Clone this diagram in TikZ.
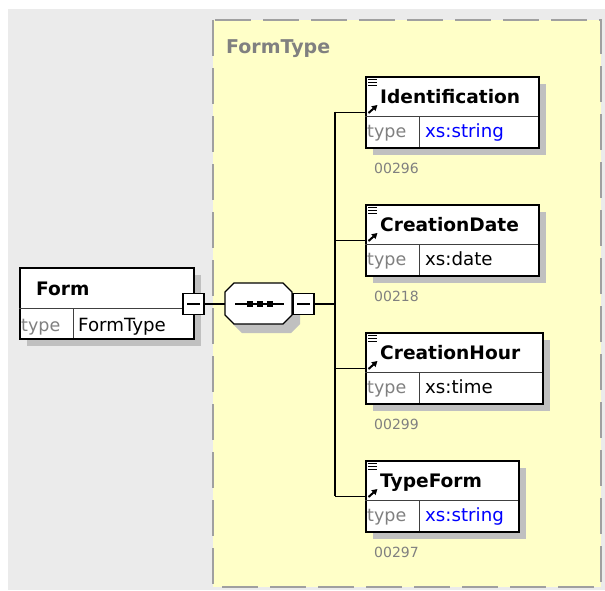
\documentclass[tikz,border=0pt]{standalone}
\usepackage{fontspec}
\setmainfont{DejaVu Sans}
\usetikzlibrary{arrows.meta}
\definecolor{bggray}{HTML}{EBEBEB}
\definecolor{ylw}{HTML}{FFFFC8}
\definecolor{shad}{HTML}{C0C0C0}
\definecolor{dashgray}{HTML}{A0A0A0}
\definecolor{lblgray}{HTML}{808080}
\definecolor{xsblue}{HTML}{0000FF}
\tikzset{
  elbox/.style={draw=black, line width=1.6pt, fill=white, inner sep=0pt, rectangle},
  divline/.style={draw=black!75, line width=0.9pt},
  nametext/.style={anchor=base west, inner sep=0pt, font=\fontsize{18.6}{20}\selectfont\bfseries},
  typelbl/.style={anchor=base west, inner sep=0pt, text=lblgray, font=\fontsize{17.5}{20}\selectfont},
  valtext/.style={anchor=base west, inner sep=0pt, font=\fontsize{18.2}{20}\selectfont},
  numtext/.style={anchor=base west, inner sep=0pt, text=lblgray, font=\fontsize{14}{16}\selectfont},
  conn/.style={draw=black, line width=1.3pt},
  minusbox/.style={draw=black, line width=1.3pt, fill=white, rectangle, inner sep=0pt, minimum width=21pt, minimum height=21pt},
  dashframe/.style={draw=dashgray, line width=2pt, dash pattern=on 36pt off 12pt, fill=ylw},
}
\newcommand\xelem[6]{%
  \fill[shad] (#2+8,#3+8) rectangle ++(#4,71);
  \node[elbox, minimum width=#4pt, minimum height=71pt, anchor=north west] (#1) at (#2,#3) {};
  \draw[divline] (#2,#3+40) -- ++(#4,0);
  \draw[divline] (#2+54,#3+40) -- ++(0,31);
  \draw[line width=1.2pt] (#2+3,#3+3.5) -- ++(9,0) (#2+3,#3+6.5) -- ++(9,0) (#2+3,#3+9.5) -- ++(9,0);
  \draw[line width=2pt, -{Triangle[length=5.5pt,width=6pt]}] (#2+3.5,#3+37) -- ++(9,-8);
  \node[nametext] (#1-name) at (#2+15,#3+27) {#5};
  \node[typelbl] (#1-type) at (#2+2,#3+61) {type};
  \node[valtext] (#1-val) at (#2+60,#3+61) {#6};
}
\begin{document}
\begin{tikzpicture}[x=1pt,y=-1pt]
\useasboundingbox (0,0) rectangle (605,590);
\fill[bggray] (8,9) rectangle (605,590);
\draw[dashframe] (213,20) rectangle (601,587);
\node[anchor=base west, inner sep=0pt, text=lblgray, font=\fontsize{19}{21}\selectfont\bfseries] (title) at (226,53) {FormType};

% Form element
\fill[shad] (19+8,267+8) rectangle (193+8,338+8);
\node[elbox, minimum width=174pt, minimum height=71pt, anchor=north west] (form) at (19,267) {};
\draw[divline] (19,308) -- (193,308);
\draw[divline] (73,308) -- (73,338);
\node[nametext] (form-name) at (36,295) {Form};
\node[typelbl] (form-type) at (21,331) {type};
\node[valtext] (form-val) at (78,331) {FormType};

% minus box of Form
\node[minusbox] (m1) at (193.5,304) {};
\draw[line width=1.2pt] (m1.center) ++(-6.5,0) -- ++(13,0);

% sequence compositor
\fill[shad] (225+8+9,283+9) -- (292+8-9,283+9) -- (292+8,283+9+9) -- (292+8,324+9-9) -- (292+8-9,324+9) -- (225+8+9,324+9) -- (225+8,324+9-9) -- (225+8,283+9+9) -- cycle;
\node[inner sep=0pt, minimum width=67pt, minimum height=41pt] (seq) at (258.5,303.5) {};
\draw[line width=1.3pt, fill=white] (225+9,283) -- (292-9,283) -- (292,283+9) -- (292,324-9) -- (292-9,324) -- (225+9,324) -- (225,324-9) -- (225,283+9) -- cycle;
\draw[line width=1.3pt] (235,304) -- (284,304);
\fill (247,301.25) rectangle ++(5.5,5.5);
\fill (257,301.25) rectangle ++(5.5,5.5);
\fill (267,301.25) rectangle ++(5.5,5.5);

\node[minusbox] (m2) at (303.5,304) {};
\draw[line width=1.2pt] (m2.center) ++(-6.5,0) -- ++(13,0);

% children
\xelem{ident}{365}{76}{173}{Identification}{\textcolor{xsblue}{xs:string}}
\node[numtext] (n1) at (374,173) {00296};
\xelem{cdate}{365}{204}{173}{CreationDate}{xs:date}
\node[numtext] (n2) at (374,301) {00218};
\xelem{chour}{365}{332}{177}{CreationHour}{xs:time}
\node[numtext] (n3) at (374,429) {00299};
\xelem{tform}{365}{460}{153}{TypeForm}{\textcolor{xsblue}{xs:string}}
\node[numtext] (n4) at (374,557) {00297};

% connectors
\coordinate (bustop) at (335,111.5);
\coordinate (busbot) at (335,495.5);
\draw[conn] (m1.east) -- (m1.east -| seq.west);
\draw[conn] (m2.east) -- (m2.east -| bustop);
\draw[conn] (bustop) -- (busbot);
\draw[conn] (ident.west -| bustop) -- (ident.west);
\draw[conn] (cdate.west -| bustop) -- (cdate.west);
\draw[conn] (chour.west -| bustop) -- (chour.west);
\draw[conn] (tform.west -| bustop) -- (tform.west);
\end{tikzpicture}
\end{document}
